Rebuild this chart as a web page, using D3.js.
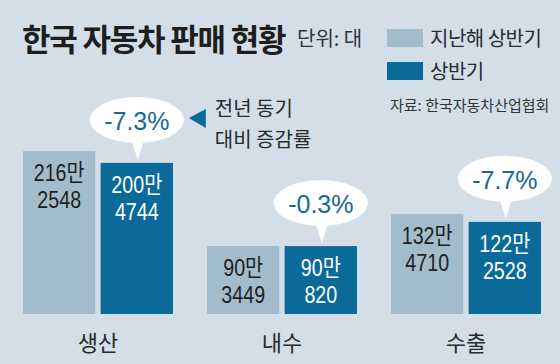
<!DOCTYPE html>
<html>
<head>
<meta charset="utf-8">
<script src="https://cdn.jsdelivr.net/npm/d3@7"></script>
<style>
  body { margin: 0; background: #d4dee8; }
  svg { display: block; }
  .kr { font-family: "Noto Sans CJK KR", "Noto Sans", sans-serif; }
  .num { font-family: "Liberation Sans", Arial, "Noto Sans CJK KR", sans-serif; }
</style>
</head>
<body>
<div id="chart"></div>
<script>
// data
var categories = ["생산", "내수", "수출"];
var seriesNames = ["지난해 상반기", "상반기"];
var lastYear = [2162548, 903449, 1324710];
var thisYear = [2004744, 900820, 1222528];
var changes = ["-7.3%", "-0.3%", "-7.7%"];

var colors = ["#a3bccc", "#0a6b9a"];
var W = 560, H = 364;

var svg = d3.select("#chart")
  .append("svg")
    .attr("width", W)
    .attr("height", H);

svg.append("rect")
  .attr("width", W).attr("height", H)
  .attr("fill", "#d4dee8");

var rows = categories.map(function(c, i) {
  return {cat: c, vals: [lastYear[i], thisYear[i]], change: changes[i]};
});

// scales
var x0 = d3.scaleBand()
  .domain(categories)
  .range([6, 558])
  .paddingInner(0.185)
  .paddingOuter(0.0925);

var x1 = d3.scaleBand()
  .domain([0, 1])
  .range([0, x0.bandwidth()])
  .paddingInner(0.068);

var y = d3.scaleLinear()
  .domain([0, d3.max(lastYear.concat(thisYear))])
  .range([314, 151]);

// bars
var groups = svg.selectAll("g.grp")
  .data(rows)
  .enter()
  .append("g")
    .attr("class", "grp")
    .attr("transform", function(d) { return "translate(" + x0(d.cat) + ",0)"; });

var cells = groups.selectAll("g.cell")
  .data(function(d) { return d.vals.map(function(v, k) { return {k: k, v: v}; }); })
  .enter()
  .append("g")
    .attr("class", "cell");

cells.append("rect")
  .attr("x", function(d) { return x1(d.k); })
  .attr("y", function(d) { return y(d.v); })
  .attr("width", x1.bandwidth())
  .attr("height", function(d) { return y(0) - y(d.v); })
  .attr("fill", function(d) { return colors[d.k]; });

// value labels: "216만" / "2548", squeezed to look condensed
var vt = cells.append("text")
  .attr("class", "num")
  .attr("text-anchor", "middle")
  .attr("font-size", 24)
  .attr("transform", function(d) {
    return "translate(" + (x1(d.k) + x1.bandwidth() / 2) + "," + y(d.v) + ") scale(0.82,1)";
  })
  .attr("fill", function(d) { return d.k == 0 ? "#1e1e1e" : "#ffffff"; });
vt.append("tspan")
  .attr("x", 0)
  .attr("y", 30)
  .text(function(d) { return Math.floor(d.v / 10000) + "만"; });
vt.append("tspan")
  .attr("x", 0)
  .attr("y", 57)
  .text(function(d) { return d.v % 10000; });

// speech bubbles with change rate
var bub = groups.append("g")
  .attr("transform", function(d) {
    return "translate(" + (x1(1) + x1.bandwidth() / 2) + "," + y(d.vals[1]) + ")";
  });
bub.append("path")
  .attr("d", "M-6,-25 L1,-3 L8,-25 Z")
  .attr("fill", "#fff");
bub.append("ellipse")
  .attr("cx", 0).attr("cy", -43)
  .attr("rx", 47).attr("ry", 23)
  .attr("fill", "#fff");
bub.append("text")
  .attr("text-anchor", "middle")
  .attr("y", -33)
  .attr("font-family", "Liberation Sans, Arial, sans-serif")
  .attr("font-size", 25)
  .attr("fill", "#15699a")
  .text(function(d) { return d.change; });

// category labels
groups.append("text")
  .attr("class", "kr")
  .attr("x", x0.bandwidth() / 2)
  .attr("y", 351)
  .attr("text-anchor", "middle")
  .attr("font-size", 22)
  .attr("fill", "#2a2a2a")
  .text(function(d) { return d.cat; });

// pointer note next to first bubble
var first = rows[0];
var nx = x0(first.cat) + x1(1) + x1.bandwidth() / 2 + 52;
var ny = y(first.vals[1]) - 45;
svg.append("path")
  .attr("d", "M" + nx + "," + ny + " l17,-9 l0,19 Z")
  .attr("fill", "#0a6b9a");
svg.append("text")
  .attr("class", "kr")
  .attr("x", nx + 26).attr("y", 116)
  .attr("font-size", 20).attr("fill", "#2a2a2a")
  .text("전년 동기");
svg.append("text")
  .attr("class", "kr")
  .attr("x", nx + 26).attr("y", 147)
  .attr("font-size", 20).attr("fill", "#2a2a2a")
  .text("대비 증감률");

// title
svg.append("text")
  .attr("class", "kr")
  .attr("x", 22).attr("y", 51)
  .attr("font-size", 31).attr("font-weight", "bold")
  .attr("letter-spacing", -1.2)
  .attr("fill", "#1e1e1e")
  .text("한국 자동차 판매 현황");
svg.append("text")
  .attr("class", "kr")
  .attr("x", 297).attr("y", 46)
  .attr("font-size", 20).attr("fill", "#333")
  .text("단위: 대");

// legend
var leg = svg.append("g").attr("transform", "translate(387,29)");
seriesNames.forEach(function(s, i) {
  leg.append("rect")
    .attr("x", 0).attr("y", i * 33)
    .attr("width", 36).attr("height", 18)
    .attr("fill", colors[i]);
  leg.append("text")
    .attr("class", "kr")
    .attr("x", 43).attr("y", i * 33 + 17)
    .attr("font-size", 20).attr("letter-spacing", -0.5)
    .attr("fill", "#2a2a2a")
    .text(s);
});
svg.append("text")
  .attr("class", "kr")
  .attr("x", 390).attr("y", 111)
  .attr("font-size", 15).attr("fill", "#333")
  .text("자료: 한국자동차산업협회");
</script>
</body>
</html>
